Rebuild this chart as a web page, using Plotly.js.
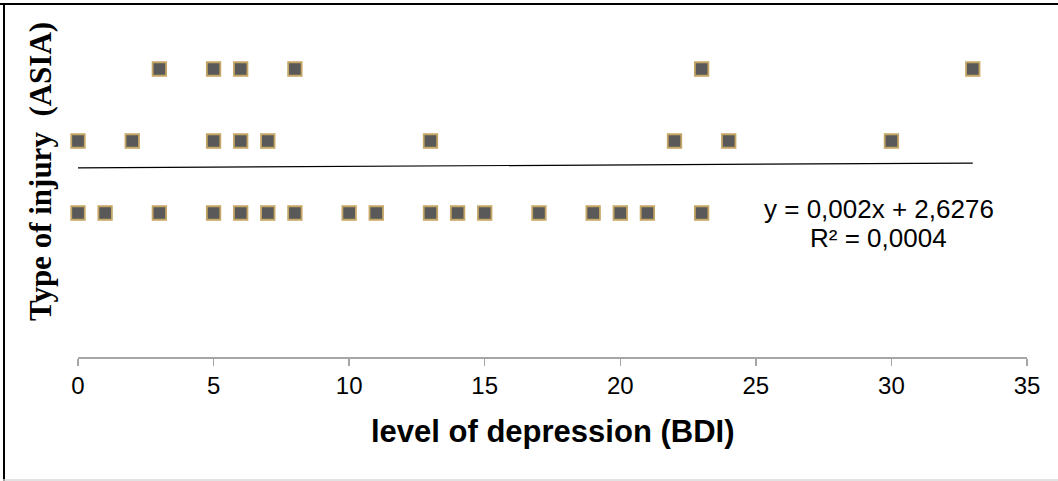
<!DOCTYPE html>
<html>
<head>
<meta charset="utf-8">
<script src="https://cdn.plot.ly/plotly-3.0.1.min.js"></script>
<style>
  html, body { margin: 0; padding: 0; background: #ffffff; }
  #chart { width: 1058px; height: 481px; }
</style>
</head>
<body>
<div id="chart"></div>
<script>
// BDI values (x) and ASIA injury type (y)
const bdiLevel = [3, 5, 6, 8, 23, 33,
                  0, 2, 5, 6, 7, 13, 22, 24, 30,
                  0, 1, 3, 5, 6, 7, 8, 10, 11, 13, 14, 15, 17, 19, 20, 21, 23];
const injuryType = [4, 4, 4, 4, 4, 4,
                    3, 3, 3, 3, 3, 3, 3, 3, 3,
                    2, 2, 2, 2, 2, 2, 2, 2, 2, 2, 2, 2, 2, 2, 2, 2, 2];
const trendSlope = 0.002;
const trendIntercept = 2.6276;
const rSquared = 0.0004;
const xTicks = [0, 5, 10, 15, 20, 25, 30, 35];

const xMin = Math.min(...bdiLevel), xMax = Math.max(...bdiLevel);
const trendX = [xMin, xMax];
const trendY = trendX.map(v => trendSlope * v + trendIntercept);

const fmt = (v, d) => v.toFixed(d).replace('.', ',');

const W = 1058, H = 481;
const M = {l: 78, r: 31, t: 10, b: 124};
const pw = W - M.l - M.r, ph = H - M.t - M.b;
const px = x => (x - M.l) / pw;
const py = y => (H - M.b - y) / ph;

const data = [
  {
    x: bdiLevel, y: injuryType, type: 'scatter', mode: 'markers',
    cliponaxis: false,
    marker: {symbol: 'square', size: 13.5, color: '#595959',
             line: {color: '#c6a664', width: 1.8}},
    hoverinfo: 'x+y'
  },
  {
    x: trendX, y: trendY, type: 'scatter', mode: 'lines',
    cliponaxis: false,
    line: {color: '#000000', width: 1.2}
  }
];

const layout = {
  width: W, height: H,
  margin: M,
  paper_bgcolor: '#ffffff', plot_bgcolor: '#ffffff',
  showlegend: false,
  font: {family: 'Liberation Sans, Arial, sans-serif', color: '#000000'},
  xaxis: {
    range: [0, 35], tickvals: xTicks, ticktext: xTicks.map(String),
    showgrid: false, zeroline: false,
    showline: true, linecolor: '#a6a6a6', linewidth: 1.5,
    ticks: 'outside', ticklen: 7, tickcolor: '#a6a6a6', tickwidth: 1.5,
    tickfont: {size: 24, family: 'Liberation Sans, Arial, sans-serif', color: '#000000'},
    fixedrange: true
  },
  yaxis: {
    range: [0, ph / 72],
    showgrid: false, zeroline: false, showline: false,
    showticklabels: false, ticks: '',
    fixedrange: true
  },
  annotations: [
    {
      xref: 'paper', yref: 'paper', x: px(40), y: py(172),
      xanchor: 'center', yanchor: 'middle', textangle: -90, showarrow: false,
      text: '<b>Type of injury  (ASIA)</b>',
      font: {family: 'Liberation Serif, Times New Roman, serif', size: 31, color: '#000000'}
    },
    {
      xref: 'paper', yref: 'paper', x: px(552), y: py(431),
      xanchor: 'center', yanchor: 'middle', showarrow: false,
      text: '<b>level of depression (BDI)</b>',
      font: {family: 'Liberation Sans, Arial, sans-serif', size: 31, color: '#000000'}
    },
    {
      xref: 'paper', yref: 'paper', x: px(879), y: py(209),
      xanchor: 'center', yanchor: 'middle', showarrow: false,
      text: 'y = ' + fmt(trendSlope, 3) + 'x + ' + fmt(trendIntercept, 4),
      font: {family: 'Liberation Sans, Arial, sans-serif', size: 26, color: '#000000'}
    },
    {
      xref: 'paper', yref: 'paper', x: px(878), y: py(238),
      xanchor: 'center', yanchor: 'middle', showarrow: false,
      text: 'R² = ' + fmt(rSquared, 4),
      font: {family: 'Liberation Sans, Arial, sans-serif', size: 26, color: '#000000'}
    }
  ],
  shapes: [
    {type: 'line', xref: 'paper', yref: 'paper', x0: px(0), x1: px(W), y0: py(4), y1: py(4),
     line: {color: '#000000', width: 2}},
    {type: 'line', xref: 'paper', yref: 'paper', x0: px(4), x1: px(4), y0: py(3), y1: py(H),
     line: {color: '#000000', width: 2}},
    {type: 'line', xref: 'paper', yref: 'paper', x0: px(3), x1: px(W), y0: py(480), y1: py(480),
     line: {color: '#d9d9d9', width: 1.5}}
  ]
};

Plotly.newPlot('chart', data, layout, {displayModeBar: false, staticPlot: true});
</script>
</body>
</html>
